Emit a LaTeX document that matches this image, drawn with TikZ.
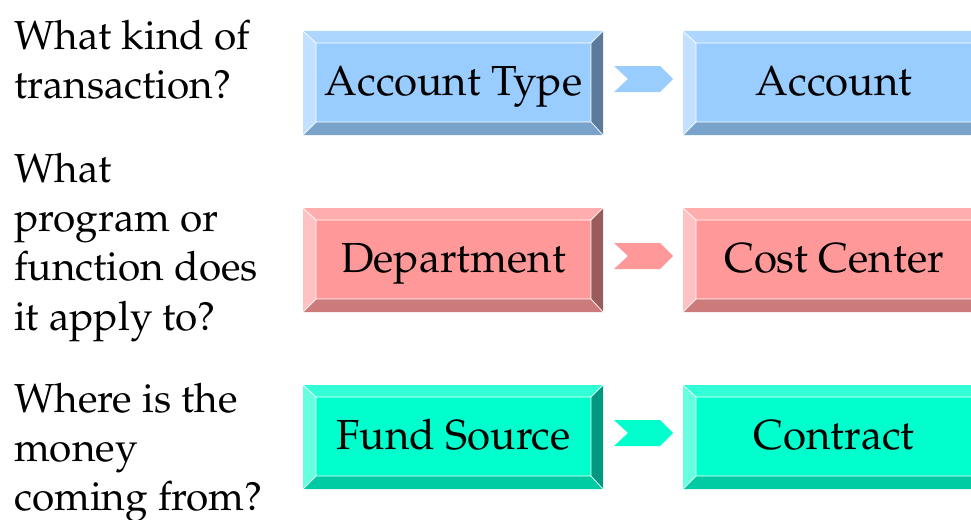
\documentclass[tikz,border=0pt]{standalone}
\usepackage[T1]{fontenc}
\usepackage{mathpazo}
\definecolor{bface}{HTML}{99CCFF}
\definecolor{btop}{HTML}{ADD6FF}
\definecolor{bleft}{HTML}{C2E0FF}
\definecolor{bright}{HTML}{5C7A99}
\definecolor{bbot}{HTML}{7AA3CC}
\definecolor{pface}{HTML}{FF9999}
\definecolor{ptop}{HTML}{FFADAD}
\definecolor{pleft}{HTML}{FFC2C2}
\definecolor{pright}{HTML}{995C5C}
\definecolor{pbot}{HTML}{CC7A7A}
\definecolor{tface}{HTML}{00FFCC}
\definecolor{ttop}{HTML}{33FFD6}
\definecolor{tleft}{HTML}{66FFE0}
\definecolor{tright}{HTML}{009980}
\definecolor{tbot}{HTML}{00CCA3}
\newcommand\bevbox[7]{%
  \fill[#6top] (#2,#3) -- (#4,#3) -- (#4-12,#3+12) -- (#2+13,#3+12) -- cycle;
  \fill[#6left] (#2,#3) -- (#2+13,#3+12) -- (#2+13,#5-13) -- (#2,#5) -- cycle;
  \fill[#6right] (#4,#3) -- (#4,#5) -- (#4-12,#5-13) -- (#4-12,#3+12) -- cycle;
  \fill[#6bot] (#2,#5) -- (#2+13,#5-13) -- (#4-12,#5-13) -- (#4,#5) -- cycle;
  \fill[#6face] (#2+13,#3+12) rectangle (#4-12,#5-13);
  \draw[white,line width=0.7pt] (#2+13,#3+12) rectangle (#4-12,#5-13)
     (#2,#3) -- (#2+13,#3+12) (#4,#3) -- (#4-12,#3+12)
     (#2,#5) -- (#2+13,#5-13) (#4,#5) -- (#4-12,#5-13);
  \node[boxtext] (#1) at ({(#2+#4)/2+0.5},{(#3+#5)/2+12.5}) {#7};
}
\newcommand\chev[2]{%
  \fill[#2] (614,#1-13) -- (660,#1-13) -- (673,#1) -- (660,#1+13) -- (614,#1+13) -- (628,#1) -- cycle;
}
\begin{document}
\begin{tikzpicture}[x=1pt,y=-1pt,
  boxtext/.style={inner sep=0pt,anchor=base,font=\fontsize{42}{50}\selectfont},
  qtext/.style={inner sep=0pt,anchor=base west,font=\fontsize{40.5}{49}\selectfont}]
\useasboundingbox (0,0) rectangle (971,519);
% questions
\node[qtext] (q1a) at (14,50) {What kind of};
\node[qtext] (q1b) at (14,98) {transaction?};
\node[qtext] (q2a) at (14,182) {What};
\node[qtext] (q2b) at (14,231) {program or};
\node[qtext] (q2c) at (14,280) {function does};
\node[qtext] (q2d) at (14,330) {it apply to?};
\node[qtext] (q3a) at (14,412) {Where is the};
\node[qtext] (q3b) at (14,461) {money};
\node[qtext] (q3c) at (14,510) {coming from?};
% boxes
\bevbox{at}{303}{31}{603}{135}{b}{Account Type}
\bevbox{ac}{683}{31}{984}{135}{b}{Account}
\bevbox{dp}{303}{208}{603}{312}{p}{Department}
\bevbox{cc}{683}{208}{984}{312}{p}{Cost Center}
\bevbox{fs}{303}{385}{603}{489}{t}{Fund Source}
\bevbox{ct}{683}{385}{984}{489}{t}{Contract}
% chevrons
\chev{79}{bface}
\chev{256}{pface}
\chev{433}{tface}
\end{tikzpicture}
\end{document}
